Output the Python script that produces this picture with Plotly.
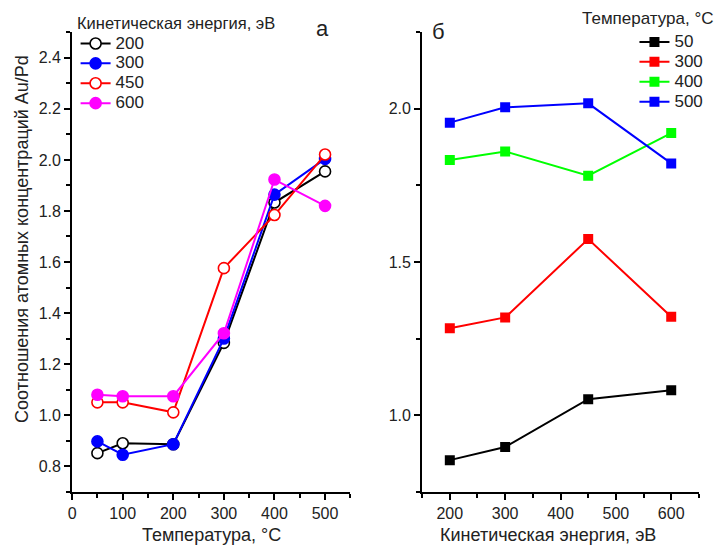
import plotly.graph_objects as go

W, H = 715, 553
FONT = "Liberation Sans, Arial, sans-serif"

# ---- panel a: ratio vs temperature, one series per kinetic energy ----
temp_a = [50, 100, 200, 300, 400, 500]
energy_labels = ["200", "300", "450", "600"]
ratio_200 = [0.851, 0.890, 0.886, 1.283, 1.833, 1.955]
ratio_300 = [0.897, 0.845, 0.886, 1.300, 1.864, 2.004]
ratio_450 = [1.050, 1.050, 1.011, 1.576, 1.784, 2.021]
ratio_600 = [1.080, 1.074, 1.074, 1.321, 1.923, 1.820]

# ---- panel b: ratio vs kinetic energy, one series per temperature ----
energy_b = [200, 300, 450, 600]
temp_labels = ["50", "300", "400", "500"]
ratio_t50 = [0.853, 0.896, 1.052, 1.081]
ratio_t300 = [1.284, 1.319, 1.575, 1.321]
ratio_t400 = [1.833, 1.861, 1.782, 1.921]
ratio_t500 = [1.955, 2.005, 2.018, 1.822]

fig = go.Figure()

def lbl(t):
    return '<span style="font-size:17px">%s</span>' % t

a_series = [
    (ratio_200, "#000000", True),
    (ratio_300, "#0000FF", False),
    (ratio_450, "#FF0000", True),
    (ratio_600, "#FF00FF", False),
]
for (ys, col, hollow), name in zip(a_series, energy_labels):
    fig.add_trace(go.Scatter(
        x=temp_a, y=ys, mode="lines+markers", name=lbl(name),
        line=dict(color=col, width=2),
        marker=dict(symbol="circle", size=11,
                    color="#FFFFFF" if hollow else col,
                    line=dict(color=col, width=1.6)),
        xaxis="x", yaxis="y", legend="legend",
    ))

b_series = [
    (ratio_t50, "#000000"),
    (ratio_t300, "#FF0000"),
    (ratio_t400, "#00FF00"),
    (ratio_t500, "#0000FF"),
]
for (ys, col), name in zip(b_series, temp_labels):
    fig.add_trace(go.Scatter(
        x=energy_b, y=ys, mode="lines+markers", name=lbl(name),
        line=dict(color=col, width=2),
        marker=dict(symbol="square", size=10, color=col,
                    line=dict(color=col, width=0)),
        xaxis="x2", yaxis="y2", legend="legend2",
    ))

axis_common = dict(
    showline=True, linecolor="black", linewidth=2,
    ticks="outside", ticklen=6, tickwidth=2, tickcolor="black",
    showgrid=False, zeroline=False, mirror=False,
    tickfont=dict(family=FONT, size=16, color="#222222"),
)

ydom = [1 - 491.7 / H, 1 - 32.3 / H]

fig.update_layout(
    width=W, height=H,
    margin=dict(l=0, r=0, t=0, b=0),
    paper_bgcolor="white", plot_bgcolor="white",
    font=dict(family=FONT, color="#222222"),
    xaxis=dict(domain=[68.5 / W, 348.3 / W], range=[0, 550],
               tickvals=[0, 100, 200, 300, 400, 500],
               minor=dict(dtick=50, tick0=0, ticks="outside", ticklen=4,
                          tickwidth=2, tickcolor="black"),
               anchor="y", **axis_common),
    yaxis=dict(domain=ydom, range=[0.7, 2.5],
               tickvals=[0.8, 1.0, 1.2, 1.4, 1.6, 1.8, 2.0, 2.2, 2.4],
               ticktext=["0.8", "1.0", "1.2", "1.4", "1.6", "1.8", "2.0", "2.2", "2.4"],
               minor=dict(dtick=0.1, tick0=0.7, ticks="outside", ticklen=4,
                          tickwidth=2, tickcolor="black"),
               anchor="x", **axis_common),
    xaxis2=dict(domain=[420.5 / W, 698.8 / W], range=[150, 650],
                tickvals=[200, 300, 400, 500, 600],
                minor=dict(dtick=50, tick0=150, ticks="outside", ticklen=4,
                           tickwidth=2, tickcolor="black"),
                anchor="y2", **axis_common),
    yaxis2=dict(domain=ydom, range=[0.75, 2.25],
                tickvals=[1.0, 1.5, 2.0], ticktext=["1.0", "1.5", "2.0"],
                minor=dict(dtick=0.25, tick0=0.75, ticks="outside", ticklen=4,
                           tickwidth=2, tickcolor="black"),
                anchor="x2", **axis_common),
    legend=dict(x=72 / W, y=1 - 28.5 / H, xanchor="left", yanchor="top",
                bgcolor="rgba(0,0,0,0)", borderwidth=0,
                font=dict(family=FONT, size=13, color="#222222"),
                tracegroupgap=0),
    legend2=dict(x=634 / W, y=1 - 27 / H, xanchor="left", yanchor="top",
                 bgcolor="rgba(0,0,0,0)", borderwidth=0,
                 font=dict(family=FONT, size=13, color="#222222"),
                 tracegroupgap=0),
    showlegend=True,
)

ann = [
    dict(text="а", x=320.7 / W, y=1 - 28.3 / H, size=22, xa="center"),
    dict(text="б", x=436.7 / W, y=1 - 31.7 / H, size=22, xa="center"),
    dict(text="Кинетическая энергия, эВ", x=71.5 / W, y=1 - 22.7 / H, size=16.5, xa="left"),
    dict(text="Температура, °C", x=579.5 / W, y=1 - 18.3 / H, size=17, xa="left"),
    dict(text="Температура, °C", x=208.3 / W, y=1 - 534.5 / H, size=18, xa="center"),
    dict(text="Кинетическая энергия, эВ", x=547.5 / W, y=1 - 534.5 / H, size=18, xa="center"),
]
for a in ann:
    fig.add_annotation(text=a["text"], x=a["x"], y=a["y"], xref="paper", yref="paper",
                       xanchor=a["xa"], yanchor="middle", showarrow=False,
                       font=dict(family=FONT, size=a["size"], color="#222222"))
fig.add_annotation(text="Соотношения атомных концентраций Au/Pd",
                   x=18 / W, y=1 - 239 / H, xref="paper", yref="paper",
                   xanchor="center", yanchor="middle", showarrow=False, textangle=-90,
                   font=dict(family=FONT, size=18, color="#222222"))

fig.write_html("out.html")
